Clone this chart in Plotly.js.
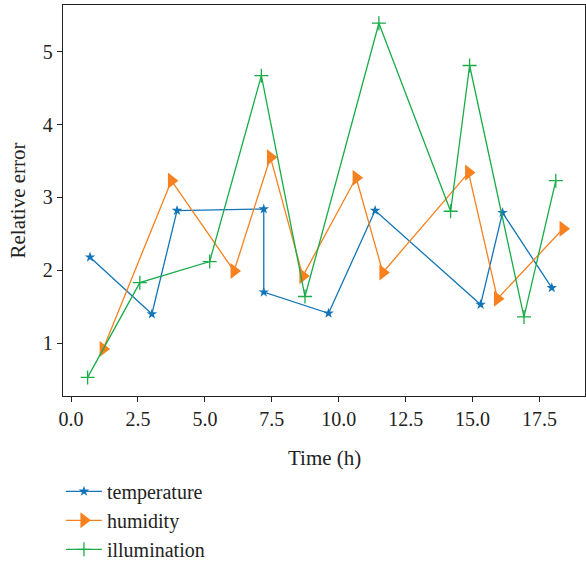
<!DOCTYPE html>
<html>
<head>
<meta charset="utf-8">
<script src="https://cdn.plot.ly/plotly-3.0.1.min.js"></script>
<style>html,body{margin:0;padding:0;background:#fff}#chart{width:586px;height:563px}</style>
</head>
<body>
<div id="chart"></div>
<script>
const tempX = [0.71, 3.02, 3.96, 7.20, 7.20, 9.62, 11.36, 15.30, 16.12, 17.96];
const tempY = [2.18, 1.40, 2.82, 2.84, 1.70, 1.41, 2.82, 1.53, 2.79, 1.76];
const humX = [1.20, 3.75, 6.09, 7.45, 8.66, 10.65, 11.65, 14.85, 15.93, 18.38];
const humY = [0.92, 3.23, 1.99, 3.55, 1.92, 3.27, 1.97, 3.34, 1.61, 2.57];
const illX = [0.62, 2.57, 5.18, 7.11, 8.74, 11.50, 14.18, 14.89, 16.92, 18.11];
const illY = [0.53, 1.83, 2.12, 4.67, 1.64, 5.39, 2.81, 4.81, 1.36, 3.23];
const names = ["temperature", "humidity", "illumination"];
const colors = ["#1374b8", "#f7811f", "#18ac48"];
const xTicks = [0, 2.5, 5, 7.5, 10, 12.5, 15, 17.5];
const xTickText = ["0.0", "2.5", "5.0", "7.5", "10.0", "12.5", "15.0", "17.5"];
const yTicks = [1, 2, 3, 4, 5];
const xTitle = "Time (h)";
const yTitle = "Relative error";

const font = "Liberation Serif, Times New Roman, serif";
const traces = [
  {x: tempX, y: tempY, name: names[0], legendgroup: "a", mode: "lines+markers",
   line: {color: colors[0], width: 1.3},
   marker: {symbol: "star", size: 8, color: colors[0]}},
  {x: humX, y: humY, name: names[1], legendgroup: "b", mode: "lines+markers",
   line: {color: colors[1], width: 1.3},
   marker: {symbol: "triangle-right", size: 14, color: colors[1]}},
  {x: illX, y: illY, name: names[2], legendgroup: "c", mode: "lines+markers",
   line: {color: colors[2], width: 1.3},
   marker: {symbol: "cross-thin", size: 10, color: colors[2], line: {color: colors[2], width: 1.3}}}
];
const layout = {
  width: 586, height: 563,
  margin: {l: 63, r: 1, t: 5, b: 167, autoexpand: false},
  paper_bgcolor: "#fff", plot_bgcolor: "#fff",
  font: {family: font, size: 20, color: "#222"},
  showlegend: true,
  legend: {xref: "container", yref: "container", x: 0.104, xanchor: "left", y: 0.162, yanchor: "top",
           orientation: "v", traceorder: "grouped", tracegroupgap: 0, itemwidth: 36,
           font: {family: font, size: 20, color: "#222"}, bgcolor: "rgba(0,0,0,0)"},
  xaxis: {range: [-0.3, 19.2], tickvals: xTicks, ticktext: xTickText, automargin: false,
          showgrid: false, zeroline: false, showline: true, mirror: true,
          linecolor: "#222", linewidth: 1.3, ticks: "outside", ticklen: 5, tickcolor: "#222",
          tickfont: {family: font, size: 20, color: "#222"}},
  yaxis: {range: [0.275, 5.64], tickvals: yTicks, automargin: false,
          showgrid: false, zeroline: false, showline: true, mirror: true,
          linecolor: "#222", linewidth: 1.3, ticks: "outside", ticklen: 5, tickcolor: "#222",
          tickfont: {family: font, size: 20, color: "#222"}},
  annotations: [
    {text: xTitle, xref: "paper", yref: "paper", x: 0.5, y: 0, xanchor: "center", yanchor: "middle",
     yshift: -62, showarrow: false, font: {family: font, size: 21, color: "#222"}},
    {text: yTitle, xref: "paper", yref: "paper", x: 0, y: 0.5, xanchor: "center", yanchor: "middle",
     xshift: -46, textangle: -90, showarrow: false, font: {family: font, size: 21, color: "#222"}}
  ]
};
Plotly.newPlot("chart", traces, layout, {displayModeBar: false, staticPlot: true});
</script>
</body>
</html>
